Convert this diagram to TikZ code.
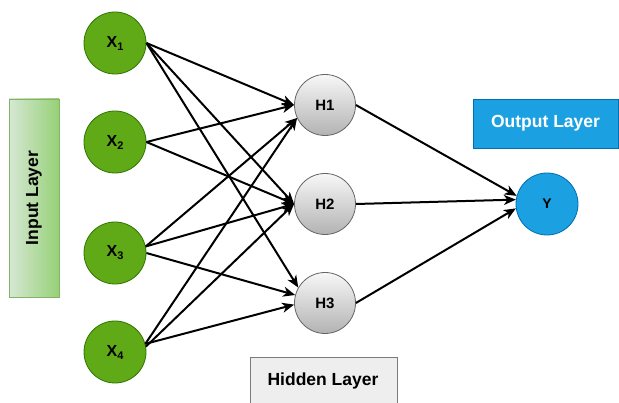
\documentclass[tikz,border=0pt]{standalone}
\usepackage{fontspec}
\setmainfont{Liberation Sans}
\usetikzlibrary{arrows.meta}
\definecolor{ingreen}{HTML}{60A917}
\definecolor{ingreenb}{HTML}{2D7600}
\definecolor{outblue}{HTML}{1BA1E2}
\definecolor{outblueb}{HTML}{006EAF}
\definecolor{lgreenA}{HTML}{D5E8D4}
\definecolor{lgreenB}{HTML}{97D077}
\definecolor{lgreenb}{HTML}{82B366}
\definecolor{hidfill}{HTML}{EEEEEE}
\definecolor{hidb}{HTML}{7A7A7A}
\definecolor{hnodeb}{HTML}{666666}
\begin{document}
\begin{tikzpicture}[x=1pt,y=-1pt,
  innode/.style={circle,draw=ingreenb,fill=ingreen,line width=0.8pt,minimum size=62pt,inner sep=0pt,font=\fontsize{16}{16}\selectfont\bfseries},
  hidnode/.style={circle,draw=hnodeb,top color=white!97!black,bottom color=black!30,line width=0.8pt,minimum size=61pt,inner sep=0pt,font=\fontsize{15}{15}\selectfont\bfseries},
  outnode/.style={circle,draw=outblueb,fill=outblue,line width=0.8pt,minimum size=62pt,inner sep=0pt,font=\fontsize{14}{14}\selectfont\bfseries},
  labfont/.style={font=\fontsize{17.5}{17.5}\selectfont\bfseries},
  conn/.style={line width=2pt,-{Stealth[length=12pt,width=10pt,inset=3.5pt]}}
]
\useasboundingbox (0,0) rectangle (619,403);
% layer labels
\node[draw=lgreenb,left color=lgreenA,right color=lgreenB,line width=0.8pt,minimum width=50pt,minimum height=198pt,inner sep=0pt] (inbox) at (34,198) {};
\node[labfont,rotate=90] (inlab) at (inbox.center) {Input Layer};
\node[draw=outblueb,fill=outblue,line width=0.8pt,minimum width=145pt,minimum height=49pt,inner sep=0pt,labfont,text=white] (outbox) at (545.5,123.5) {Output Layer};
\fill[hidfill] (250,357) rectangle (397,404);
\draw[hidb,line width=0.8pt] (250,404) -- (250,357) -- (397,357) -- (397,404);
\node[labfont] (hidlab) at (323,381) {Hidden Layer};
% nodes
\node[innode] (X1) at (115,43) {X\raisebox{-3pt}{\fontsize{11}{11}\selectfont 1}};
\node[innode] (X2) at (115,142) {X\raisebox{-3pt}{\fontsize{11}{11}\selectfont 2}};
\node[innode] (X3) at (115,253) {X\raisebox{-3pt}{\fontsize{11}{11}\selectfont 3}};
\node[innode] (X4) at (115,352) {X\raisebox{-3pt}{\fontsize{11}{11}\selectfont 4}};
\node[hidnode] (H1) at (325,105) {H1};
\node[hidnode] (H2) at (325,204) {H2};
\node[hidnode] (H3) at (325,303) {H3};
\node[outnode] (Y) at (547,204) {Y};
% connectors
\draw[conn] (X1.east) -- (H1.west);
\draw[conn] (X1.east) -- (H2.west);
\draw[conn] (X1.east) -- (H3.150);
\draw[conn] (X2.east) -- (H1.west);
\draw[conn] (X2.east) -- (H2.west);
\draw[conn] (X3.12) -- (H1.205);
\draw[conn] (X3.12) -- (H2.west);
\draw[conn] (X3.east) -- (H3.165);
\draw[conn] (X4.15) -- (H1.205);
\draw[conn] (X4.10) -- (H2.west);
\draw[conn] (X4.15) -- (H3.183);
\draw[conn] (H1.east) -- (Y.165);
\draw[conn] (H2.east) -- (Y.172);
\draw[conn] (H3.east) -- (Y.188);
\end{tikzpicture}
\end{document}
